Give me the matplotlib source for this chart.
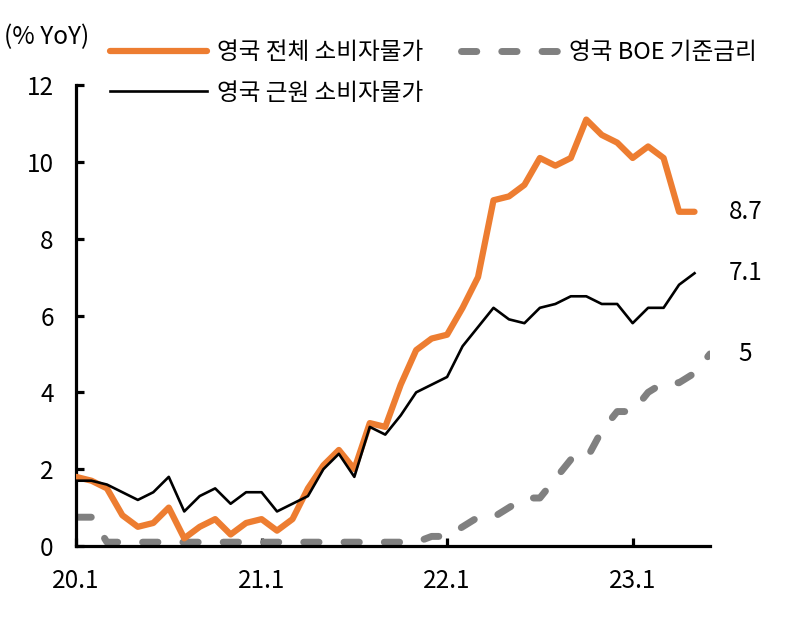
import numpy as np
import matplotlib
matplotlib.use("Agg")
import matplotlib.pyplot as plt

plt.rcParams['font.family'] = ['Noto Sans CJK KR', 'DejaVu Sans']

# monthly, 2020.1 ~ 2023.6
months = [f"{y}.{m}" for y in range(20, 24) for m in range(1, 13)][:42]
cpi = [1.8, 1.7, 1.5, 0.8, 0.5, 0.6, 1.0, 0.2, 0.5, 0.7, 0.3, 0.6,
       0.7, 0.4, 0.7, 1.5, 2.1, 2.5, 2.0, 3.2, 3.1, 4.2, 5.1, 5.4,
       5.5, 6.2, 7.0, 9.0, 9.1, 9.4, 10.1, 9.9, 10.1, 11.1, 10.7, 10.5,
       10.1, 10.4, 10.1, 8.7, 8.7]
core = [1.7, 1.7, 1.6, 1.4, 1.2, 1.4, 1.8, 0.9, 1.3, 1.5, 1.1, 1.4,
        1.4, 0.9, 1.1, 1.3, 2.0, 2.4, 1.8, 3.1, 2.9, 3.4, 4.0, 4.2,
        4.4, 5.2, 5.7, 6.2, 5.9, 5.8, 6.2, 6.3, 6.5, 6.5, 6.3, 6.3,
        5.8, 6.2, 6.2, 6.8, 7.1]
boe = [0.75, 0.75, 0.1, 0.1, 0.1, 0.1, 0.1, 0.1, 0.1, 0.1, 0.1, 0.1,
       0.1, 0.1, 0.1, 0.1, 0.1, 0.1, 0.1, 0.1, 0.1, 0.1, 0.1, 0.25,
       0.25, 0.5, 0.75, 0.75, 1.0, 1.25, 1.25, 1.75, 2.25, 2.25, 3.0, 3.5,
       3.5, 4.0, 4.25, 4.25, 4.5, 5.0]
tick_labels = ["20.1", "21.1", "22.1", "23.1"]
end_labels = ["8.7", "7.1", "5"]

fig = plt.figure(figsize=(7.9, 6.19), dpi=100)
ax = fig.add_axes([0.0962, 0.1179, 0.8025, 0.7448])

orange = '#ED7D31'
gray = '#808080'

ax.plot(range(len(cpi)), cpi, color=orange, lw=4.5, solid_joinstyle='round',
        solid_capstyle='round', label='영국 전체 소비자물가', zorder=3)
ax.plot(range(len(core)), core, color='black', lw=1.9,
        label='영국 근원 소비자물가', zorder=4)
ax.plot(range(len(boe)), boe, color=gray, lw=5, dashes=(2.2, 3.6),
        dash_capstyle='round', label='영국 BOE 기준금리', zorder=2)

ax.set_xlim(0, 41)
ax.set_ylim(0, 12)
ax.set_xticks([months.index(t) for t in tick_labels])
ax.set_xticklabels(tick_labels)
ax.set_yticks(range(0, 13, 2))

for s in ['top', 'right']:
    ax.spines[s].set_visible(False)
for s in ['left', 'bottom']:
    ax.spines[s].set_linewidth(2.3)
ax.tick_params(direction='in', length=6, width=2.3, labelsize=17.5, colors='black')
ax.tick_params(axis='x', pad=16)
ax.tick_params(axis='y', pad=16)

series_end = [cpi[-1], core[-1], boe[-1]]
for lab, v in zip(end_labels, series_end):
    ax.text(43.3, v, lab, ha='center', va='center', fontsize=17.5, clip_on=False)

fig.text(0.005, 0.94, '(% YoY)', fontsize=17.5, va='center', ha='left')

h, l = ax.get_legend_handles_labels()
fig.legend([h[0], h[1], h[2]], [l[0], l[1], l[2]], ncol=2, frameon=False,
           loc='upper left', bbox_to_anchor=(0.139, 0.934), fontsize=17,
           borderpad=0, borderaxespad=0,
           handlelength=4.1, handletextpad=0.45, columnspacing=1.6,
           labelspacing=0.75)

fig.savefig('out.png', dpi=100)
